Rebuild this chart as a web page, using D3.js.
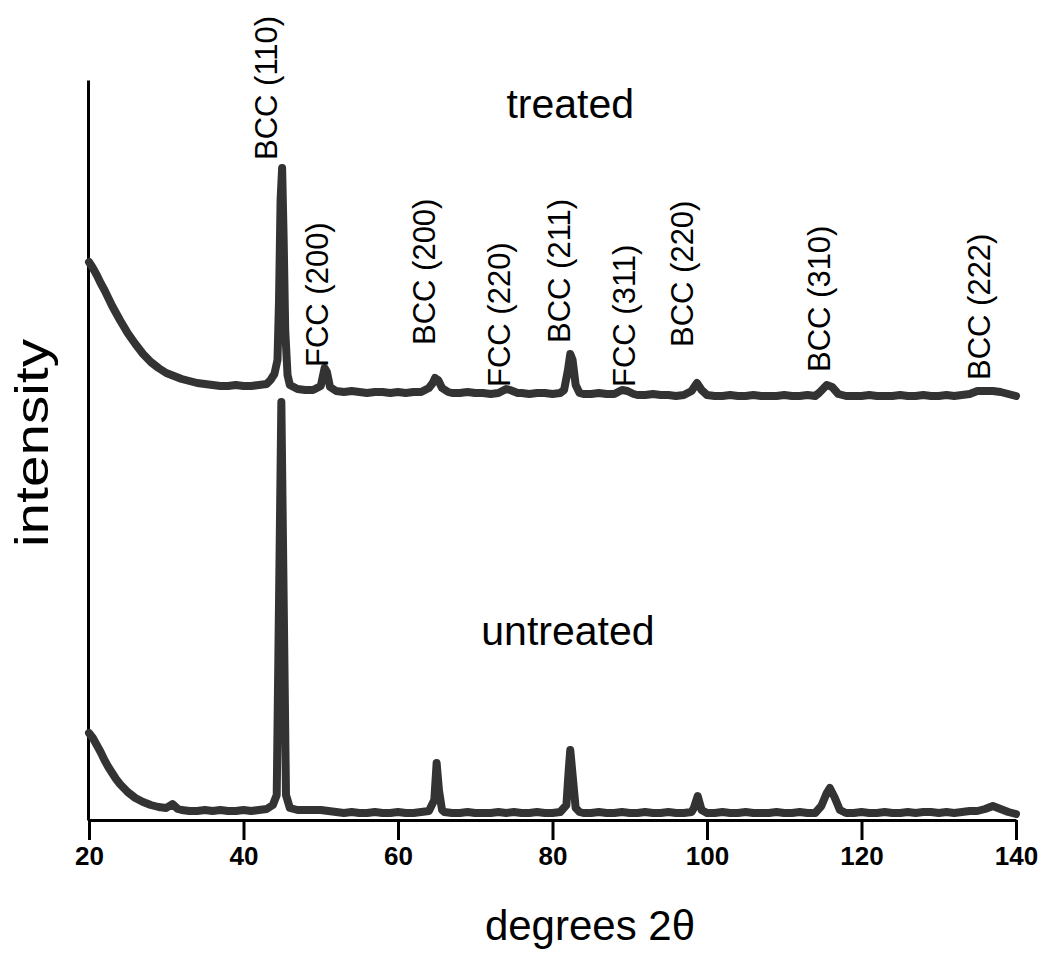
<!DOCTYPE html>
<html>
<head>
<meta charset="utf-8">
<script src="https://cdn.jsdelivr.net/npm/d3@7"></script>
<style>
  html, body { margin: 0; padding: 0; background: #fff; }
  svg { display: block; font-family: Arial, "Liberation Sans", sans-serif; }
</style>
</head>
<body>
<svg id="chart" width="1042" height="959"></svg>
<script>
// ---- data (degrees 2θ, intensity in arbitrary units) ----
const treatedAngle = [20.0,20.5,21.0,21.5,22.0,22.5,23.0,23.5,24.0,25.0,26.0,27.0,28.0,29.0,30.0,31.0,32.0,33.0,34.0,35.0,36.0,37.0,38.0,39.0,40.0,41.0,42.0,43.0,43.5,44.0,44.4,44.6,44.8,45.0,45.2,45.4,45.7,46.0,47.0,48.0,49.0,50.0,50.5,50.8,51.2,52.0,53.0,54.0,55.0,56.0,57.0,58.0,59.0,60.0,61.0,62.0,63.0,64.0,64.5,64.8,65.2,65.7,66.5,67.0,68.0,69.0,70.0,71.0,72.0,73.0,74.0,74.5,75.5,76.0,77.0,78.0,79.0,80.0,81.0,81.5,82.0,82.3,82.6,83.0,83.5,84.0,85.0,86.0,87.0,88.0,89.0,89.7,90.5,91.0,92.0,93.0,94.0,95.0,96.0,97.0,98.0,98.7,99.3,100.0,101.0,102.0,103.0,104.0,105.0,106.0,107.0,108.0,109.0,110.0,111.0,112.0,113.0,114.0,114.5,115.5,116.2,117.0,118.0,119.0,120.0,121.0,122.0,123.0,124.0,125.0,126.0,127.0,128.0,129.0,130.0,131.0,132.0,133.0,134.0,135.0,136.0,137.0,138.0,139.0,140.0];
const treatedValue = [558,552,545,537,530,522,514,507,500,487,476,466,458,452,447,444,441,439,437,436,435,434,434,435,434,434,435,436,440,446,460,520,620,652,580,490,445,435,431,430,430,434,452,448,433,429,428,429,428,427,428,428,427,428,427,428,428,432,437,442,440,432,428,427,427,428,427,427,426,427,431,430,427,427,426,427,427,426,427,430,450,466,460,435,427,426,426,427,426,426,430,429,426,425,425,426,425,425,424,425,429,437,430,425,424,424,425,424,424,425,424,424,424,425,424,424,425,424,427,435,433,426,424,424,424,425,424,424,424,425,424,424,425,424,424,425,424,425,426,429,429,429,428,426,424];

const untreatedAngle = [20.0,20.5,21.0,21.5,22.0,22.5,23.0,23.5,24.0,25.0,26.0,27.0,28.0,29.0,30.0,30.8,31.5,32.0,33.0,34.0,35.0,36.0,37.0,38.0,39.0,40.0,41.0,42.0,43.0,43.8,44.3,44.6,44.9,45.2,45.5,46.0,47.0,48.0,49.0,50.0,51.0,52.0,53.0,54.0,55.0,56.0,57.0,58.0,59.0,60.0,61.0,62.0,63.0,64.0,64.7,65.0,65.3,65.7,66.0,67.0,68.0,69.0,70.0,71.0,72.0,73.0,74.0,75.0,76.0,77.0,78.0,79.0,80.0,81.0,81.8,82.1,82.3,82.6,83.0,83.5,84.0,85.0,86.0,87.0,88.0,89.0,90.0,91.0,92.0,93.0,94.0,95.0,96.0,97.0,98.0,98.3,98.8,99.3,100.0,101.0,102.0,103.0,104.0,105.0,106.0,107.0,108.0,109.0,110.0,111.0,112.0,113.0,114.0,114.8,115.5,115.9,116.5,117.2,118.0,119.0,120.0,121.0,122.0,123.0,124.0,125.0,126.0,127.0,128.0,129.0,130.0,131.0,132.0,133.0,134.0,135.0,136.0,137.0,138.0,139.0,140.0];
const untreatedValue = [87,82,75,68,60,53,47,41,36,28,22,18,15,13,12,16,11,10,9,9,10,9,10,9,9,10,9,10,11,15,25,220,418,220,25,12,10,10,10,10,9,8,7,8,7,7,8,7,7,8,7,7,8,9,20,57,30,10,8,7,7,8,7,7,7,8,7,8,7,7,8,7,7,8,15,50,70,45,12,8,7,7,8,7,7,8,7,7,8,7,7,8,7,7,8,12,24,10,7,7,8,7,7,8,7,7,7,8,7,7,8,7,7,14,27,32,23,10,7,7,8,7,7,8,7,7,8,7,8,8,7,8,7,8,9,9,11,14,11,8,6];

// peak labels: text, anchor angle (baseline), anchor intensity (text start)
const peakLabels = ["BCC (110)","FCC (200)","BCC (200)","FCC (220)","BCC (211)","FCC (311)","BCC (220)","BCC (310)","BCC (222)"];
const peakLabelAngle = [44.3,50.9,64.8,74.5,82.3,90.7,98.2,115.9,136.6];
const peakLabelLevel = [660,453,475,433,477,433,473,448,440];

const xTicks = [20,40,60,80,100,120,140];
const seriesNames = ["treated","untreated"];
const seriesNameAngle = [82.3,82.0];
const seriesNameLevel = [702,175];

// ---- drawing ----
const svg = d3.select("#chart");
const x = d3.scaleLinear().domain([20,140]).range([89,1016]);
const y = d3.scaleLinear().domain([0,740]).range([820,80]);

const line = d3.line().x(d => x(d[0])).y(d => y(d[1]));
const treated = treatedAngle.map((a,i) => [a, treatedValue[i]]);
const untreated = untreatedAngle.map((a,i) => [a, untreatedValue[i]]);

// axes
const gx = svg.append("g").attr("transform", `translate(0,${y(0)})`)
  .call(d3.axisBottom(x).tickValues(xTicks).tickSize(20).tickSizeOuter(0).tickPadding(7));
gx.select(".domain").attr("stroke","#000").attr("stroke-width",3);
gx.selectAll(".tick line").attr("stroke","#000").attr("stroke-width",3);
gx.selectAll(".tick text").attr("fill","#000").attr("font-size",26).attr("font-weight","bold")
  .attr("font-family","Arial, 'Liberation Sans', sans-serif");

const gy = svg.append("g").attr("transform", `translate(${x(20)-1},0)`)
  .call(d3.axisLeft(y).tickValues([]).tickSizeOuter(0));
gy.select(".domain").attr("stroke","#000").attr("stroke-width",3);

// traces
[untreated, treated].forEach(s => {
  svg.append("path").datum(s)
    .attr("fill","none").attr("stroke","#333").attr("stroke-width",8)
    .attr("stroke-linejoin","round").attr("stroke-linecap","round")
    .attr("d", line);
});

// peak labels
peakLabels.forEach((t,i) => {
  svg.append("text")
    .attr("transform", `translate(${x(peakLabelAngle[i])},${y(peakLabelLevel[i])}) rotate(-90)`)
    .attr("font-size",31).attr("fill","#000").text(t);
});

// series names
seriesNames.forEach((t,i) => {
  svg.append("text").attr("x", x(seriesNameAngle[i])).attr("y", y(seriesNameLevel[i]))
    .attr("text-anchor","middle").attr("font-size",41).attr("fill","#000").text(t);
});

// axis titles
svg.append("text").attr("x",590).attr("y",940).attr("text-anchor","middle")
  .attr("font-size",42).attr("fill","#000").text("degrees 2θ");
svg.append("text").attr("transform","translate(48,443) rotate(-90)").attr("text-anchor","middle")
  .attr("font-size",46).attr("textLength",208).attr("lengthAdjust","spacingAndGlyphs")
  .attr("fill","#000").text("intensity");
</script>
</body>
</html>
